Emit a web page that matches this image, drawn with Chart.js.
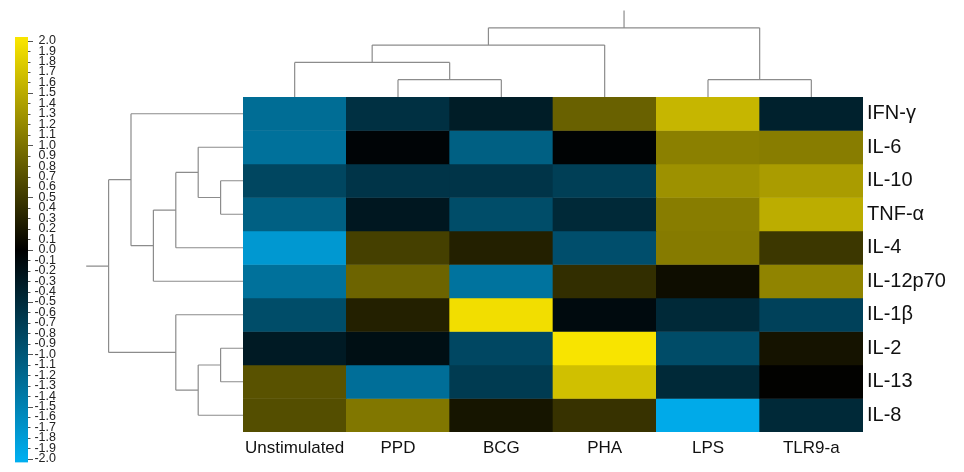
<!DOCTYPE html>
<html>
<head>
<meta charset="utf-8">
<script src="https://cdn.jsdelivr.net/npm/chart.js@4.4.1/dist/chart.umd.min.js"></script>
<style>
  body { margin: 0; background: #fff; overflow: hidden; }
  #wrap { position: relative; width: 964px; height: 472px; overflow: hidden; }
  canvas { position: absolute; left: 0; top: 0; }
</style>
</head>
<body>
<div id="wrap">
  <canvas id="heat" width="964" height="472"></canvas>
  <canvas id="scale" width="64" height="477"></canvas>
</div>
<script>
var stimuli = ["Unstimulated", "PPD", "BCG", "PHA", "LPS", "TLR9-a"];
var cytokines = ["IFN-γ", "IL-6", "IL-10", "TNF-α", "IL-4", "IL-12p70", "IL-1β", "IL-2", "IL-13", "IL-8"];

// z-scores per cytokine, same column order as stimuli
var ifnG    = [-1.25, -0.55, -0.33,  0.85,  1.60, -0.38];
var il6     = [-1.30, -0.05, -1.10, -0.03,  1.12,  1.10];
var il10    = [-0.80, -0.60, -0.60, -0.72,  1.27,  1.37];
var tnfA    = [-1.10, -0.27, -0.88, -0.47,  1.10,  1.52];
var il4     = [-1.75,  0.56,  0.28, -0.90,  1.08,  0.48];
var il12p70 = [-1.30,  0.88, -1.32,  0.40,  0.11,  1.16];
var il1b    = [-0.88,  0.28,  1.95, -0.12, -0.47, -0.75];
var il2     = [-0.30, -0.17, -0.82,  2.00, -0.87,  0.17];
var il13    = [ 0.72, -1.27, -0.68,  1.68, -0.47,  0.02];
var il8     = [ 0.68,  1.04,  0.18,  0.44, -1.95, -0.47];
var zScores = [ifnG, il6, il10, tnfA, il4, il12p70, il1b, il2, il13, il8];

// hierarchical clustering links: [childA, childB, height]; new clusters get the next index
var colLinks = [[1, 2, 1], [4, 5, 1], [0, 6, 2], [8, 3, 3], [9, 7, 4]];
var colRootHeight = 5;
var rowLinks = [[2, 3, 1], [1, 10, 2], [11, 4, 3], [12, 5, 4], [0, 13, 5],
                [7, 8, 1], [15, 9, 2], [6, 16, 3], [14, 17, 6]];
var rowRootHeight = 7;

// colour key range
var keyMin = -2, keyMax = 2, keyStep = 0.1;

var lowRgb = [0, 174, 239], highRgb = [248, 228, 0];
function heatColor(v) {
  var t = Math.max(-1, Math.min(1, v / keyMax));
  var c = t < 0 ? lowRgb : highRgb;
  var a = Math.abs(t);
  return "rgb(" + Math.round(c[0] * a) + "," + Math.round(c[1] * a) + "," + Math.round(c[2] * a) + ")";
}

var font = "Arial, 'Liberation Sans', sans-serif";

function drawTree(ctx, leaves, links, rootHeight, pt) {
  var pos = leaves.slice();
  var hgt = leaves.map(function () { return 0; });
  function seg(p1, h1, p2, h2) {
    var a = pt(p1, h1), b = pt(p2, h2);
    ctx.moveTo(a[0], a[1]);
    ctx.lineTo(b[0], b[1]);
  }
  ctx.beginPath();
  links.forEach(function (l) {
    var a = l[0], b = l[1], h = l[2];
    seg(pos[a], hgt[a], pos[a], h);
    seg(pos[b], hgt[b], pos[b], h);
    seg(pos[a], h, pos[b], h);
    pos.push((pos[a] + pos[b]) / 2);
    hgt.push(h);
  });
  var r = pos.length - 1;
  seg(pos[r], hgt[r], pos[r], rootHeight);
  ctx.stroke();
}

var dendrograms = {
  id: "dendrograms",
  afterDraw: function (chart) {
    var ctx = chart.ctx, area = chart.chartArea;
    var xs = chart.scales.x, ys = chart.scales.y;
    ctx.save();
    ctx.strokeStyle = "#8c8c8c";
    ctx.lineWidth = 1.2;
    var colLeaves = stimuli.map(function (s, j) { return xs.getPixelForValue(j); });
    drawTree(ctx, colLeaves, colLinks, colRootHeight, function (p, h) {
      return [p, area.top - h * 17.3];
    });
    var rowLeaves = cytokines.map(function (c, i) { return ys.getPixelForValue(i + 0.5); });
    drawTree(ctx, rowLeaves, rowLinks, rowRootHeight, function (p, h) {
      return [area.left - h * 22.4, p];
    });
    ctx.restore();
  }
};

var cellSets = cytokines.map(function (name, i) {
  return {
    label: name,
    data: stimuli.map(function () { return [i, i + 1]; }),
    backgroundColor: zScores[i].map(heatColor),
    borderWidth: 0,
    grouped: false,
    barPercentage: 1,
    categoryPercentage: 1
  };
});

new Chart(document.getElementById("heat"), {
  type: "bar",
  data: { labels: stimuli, datasets: cellSets },
  options: {
    responsive: false,
    animation: false,
    layout: { padding: { left: 243, top: 97, right: 0, bottom: 0 } },
    plugins: { legend: { display: false }, tooltip: { enabled: false } },
    scales: {
      x: {
        type: "category",
        grid: { display: false, drawTicks: false },
        border: { display: false },
        ticks: { color: "#111", font: { family: font, size: 17 }, padding: 6, maxRotation: 0 },
        afterFit: function (s) { s.height = 40; }
      },
      y: {
        type: "linear",
        position: "right",
        min: 0,
        max: cytokines.length,
        reverse: true,
        grid: { display: false, drawTicks: false },
        border: { display: false },
        afterBuildTicks: function (s) {
          s.ticks = cytokines.map(function (c, i) { return { value: i + 0.5 }; });
        },
        ticks: {
          autoSkip: false,
          color: "#111",
          padding: 4,
          font: { family: font, size: 20 },
          callback: function (v, i) { return cytokines[i]; }
        },
        afterFit: function (s) { s.width = 101; }
      }
    }
  },
  plugins: [dendrograms]
});

// colour key
var keyPad = 0.035;
var keyTicks = [];
for (var k = Math.round(keyMin / keyStep); k <= Math.round(keyMax / keyStep); k++) {
  keyTicks.push(Math.round(k) / 10);
}

var keyTickMarks = {
  id: "keyTickMarks",
  afterDraw: function (chart) {
    var ctx = chart.ctx, ys = chart.scales.y, right = chart.chartArea.right;
    ctx.save();
    ctx.strokeStyle = "#555";
    ctx.lineWidth = 1;
    ctx.beginPath();
    keyTicks.forEach(function (v) {
      var y = Math.round(ys.getPixelForValue(v)) + 0.5;
      var major = Math.abs(v * 2 - Math.round(v * 2)) < 1e-6;
      ctx.moveTo(right, y);
      ctx.lineTo(right + (major ? 5 : 2.5), y);
    });
    ctx.stroke();
    ctx.restore();
  }
};

new Chart(document.getElementById("scale"), {
  type: "bar",
  data: {
    labels: [""],
    datasets: [{
      data: [[keyMin - keyPad, keyMax + keyPad]],
      backgroundColor: function (c) {
        var ch = c.chart;
        if (!ch.chartArea) return "#000";
        var ys = ch.scales.y;
        var g = ch.ctx.createLinearGradient(0, ys.getPixelForValue(keyMin), 0, ys.getPixelForValue(keyMax));
        g.addColorStop(0, heatColor(keyMin));
        g.addColorStop(0.5, heatColor(0));
        g.addColorStop(1, heatColor(keyMax));
        return g;
      },
      borderWidth: 0,
      barPercentage: 1,
      categoryPercentage: 1
    }]
  },
  options: {
    responsive: false,
    animation: false,
    layout: { padding: { left: 15, top: 37, right: 8, bottom: 5 } },
    plugins: { legend: { display: false }, tooltip: { enabled: false } },
    scales: {
      x: { display: false },
      y: {
        position: "right",
        min: keyMin - keyPad,
        max: keyMax + keyPad,
        grid: { display: false },
        border: { display: false },
        afterBuildTicks: function (s) {
          s.ticks = keyTicks.map(function (v) { return { value: v }; });
        },
        ticks: {
          autoSkip: false,
          crossAlign: "far",
          padding: 7,
          color: "#222",
          font: { family: font, size: 12.5 },
          callback: function (v) { return v.toFixed(1); }
        },
        afterFit: function (s) { s.width = 28; }
      }
    }
  },
  plugins: [keyTickMarks]
});
</script>
</body>
</html>
